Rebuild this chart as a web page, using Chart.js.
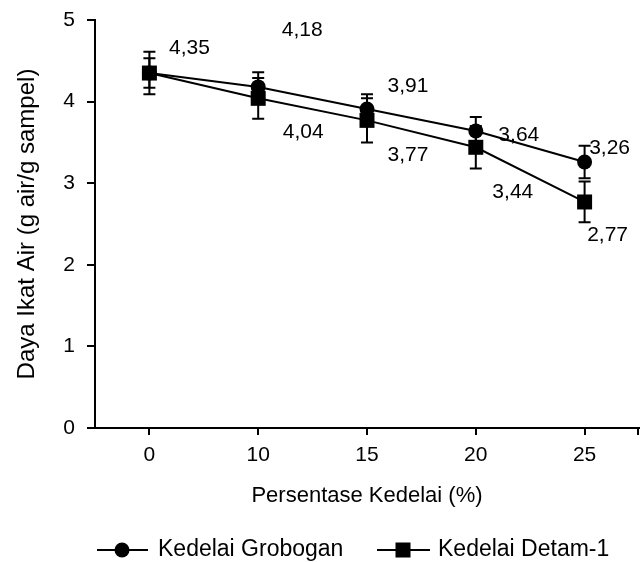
<!DOCTYPE html>
<html><head><meta charset="utf-8">
<script src="https://cdn.jsdelivr.net/npm/chart.js@4.4.1/dist/chart.umd.min.js"></script>
<style>html,body{margin:0;padding:0;background:#fff}</style></head>
<body><canvas id="c" width="641" height="562"></canvas>
<script>
const categories = ['0','10','15','20','25'];
const grobogan = [4.35,4.18,3.91,3.64,3.26];
const detam = [4.35,4.04,3.77,3.44,2.77];
const groboganErr = [0.18,0.18,0.18,0.17,0.20];
const detamErr = [0.26,0.25,0.27,0.26,0.25];
const seriesNames = ['Kedelai Grobogan','Kedelai Detam-1'];
const yMin = 0, yMax = 5, yStep = 1;
const xTitle = 'Persentase Kedelai (%)';
const yTitle = 'Daya Ikat Air (g air/g sampel)';

const FONT = '"Liberation Sans", Arial, sans-serif';
Chart.defaults.color = '#000';
Chart.defaults.font.family = FONT;
Chart.defaults.font.size = 21;

const fmt = v => v.toFixed(2).replace('.', ',');
const labelSets = [grobogan.map(fmt), detam.map((v,i)=> i===0 ? null : fmt(v))];
// label offsets (px) relative to point
const labelOffsets = [
  [[40,-25],[44,-57],[41,-23],[43,4],[25,-14]],
  [[0,0],[45,34],[41,35],[37,45],[23,33]]
];
const errs = [groboganErr, detamErr];

const errorBars = {
  id:'errorBars',
  beforeDatasetsDraw(chart){
    const ctx = chart.ctx, y = chart.scales.y;
    ctx.save(); ctx.strokeStyle='#000'; ctx.lineWidth=2;
    chart.data.datasets.forEach((ds,di)=>{
      const meta = chart.getDatasetMeta(di);
      meta.data.forEach((pt,i)=>{
        const v = ds.data[i], e = errs[di][i];
        const y1 = y.getPixelForValue(v+e), y2 = y.getPixelForValue(v-e), x = pt.x;
        ctx.beginPath();
        ctx.moveTo(x,y1); ctx.lineTo(x,y2);
        ctx.moveTo(x-6,y1); ctx.lineTo(x+6,y1);
        ctx.moveTo(x-6,y2); ctx.lineTo(x+6,y2);
        ctx.stroke();
      });
    });
    ctx.restore();
  }
};

const extras = {
  id:'extras',
  afterDraw(chart){
    const ctx = chart.ctx, a = chart.chartArea;
    ctx.save();
    // data labels
    ctx.fillStyle='#000'; ctx.font = '21px '+FONT; ctx.textAlign='center'; ctx.textBaseline='middle';
    chart.data.datasets.forEach((ds,di)=>{
      const meta = chart.getDatasetMeta(di);
      meta.data.forEach((pt,i)=>{
        const t = labelSets[di][i]; if(!t) return;
        const o = labelOffsets[di][i];
        ctx.fillText(t, pt.x+o[0], pt.y+o[1]);
      });
    });
    // right end tick of x axis
    ctx.strokeStyle='#000'; ctx.lineWidth=2;
    ctx.beginPath(); ctx.moveTo(a.right-1, a.bottom); ctx.lineTo(a.right-1, a.bottom+7); ctx.stroke();
    // legend
    const ly = 550;
    ctx.font = '23px '+FONT;
    const items = [{x0:97,x1:148,mx:122,tx:158,style:'circle'},{x0:377,x1:430,mx:403,tx:438,style:'rect'}];
    items.forEach((it,k)=>{
      ctx.beginPath(); ctx.moveTo(it.x0,ly); ctx.lineTo(it.x1,ly); ctx.stroke();
      ctx.fillStyle='#000';
      if(it.style==='circle'){ ctx.beginPath(); ctx.arc(it.mx,ly,7.5,0,Math.PI*2); ctx.fill(); }
      else { ctx.fillRect(it.mx-7.5,ly-7.5,15,15); }
      ctx.textAlign='left'; ctx.textBaseline='middle';
      ctx.fillText(seriesNames[k], it.tx, ly);
    });
    ctx.restore();
  }
};

new Chart(document.getElementById('c'), {
  type:'line',
  data:{
    labels: categories,
    datasets:[
      {label:seriesNames[0], data:grobogan, borderColor:'#000', backgroundColor:'#000', borderWidth:2,
       pointStyle:'circle', pointRadius:7.5, pointBorderWidth:0, tension:0, clip:false},
      {label:seriesNames[1], data:detam, borderColor:'#000', backgroundColor:'#000', borderWidth:2,
       pointStyle:'rect', pointRadius:10.6, pointBorderWidth:0, tension:0, clip:false}
    ]
  },
  options:{
    responsive:false, animation:false,
    layout:{autoPadding:false, padding:{top:20,right:2,left:0,bottom:50}},
    plugins:{legend:{display:false}, tooltip:{enabled:false}},
    scales:{
      x:{
        type:'category', offset:true,
        grid:{drawOnChartArea:false, drawTicks:true, tickLength:7, color:'#000', lineWidth:2},
        border:{display:true, color:'#000', width:2},
        ticks:{padding:8, font:{size:21}, maxRotation:0},
        title:{display:true, text:xTitle, font:{size:22}, padding:{top:0,bottom:3}},
        afterFit(s){ s.height = 84; s.paddingLeft = 0; s.paddingRight = 0; }
      },
      y:{
        min:yMin, max:yMax,
        grid:{drawOnChartArea:false, drawTicks:true, tickLength:8, color:'#000', lineWidth:2},
        border:{display:true, color:'#000', width:2},
        ticks:{stepSize:yStep, padding:12, font:{size:21}},
        title:{display:true, text:yTitle, font:{size:24}, padding:{top:13,bottom:0}},
        afterFit(s){ s.width = 95; s.paddingTop = 0; s.paddingBottom = 0; }
      }
    }
  },
  plugins:[errorBars, extras]
});
</script>
</body></html>
